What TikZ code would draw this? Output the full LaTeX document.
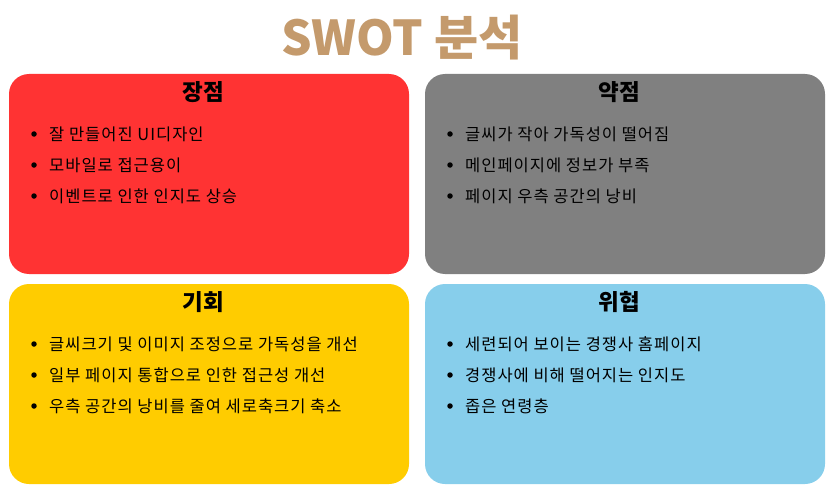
\documentclass[tikz,border=0pt]{standalone}
\usepackage{fontspec}
\setmainfont{Noto Sans CJK KR}
\usepackage{tikz}
\definecolor{swotred}{HTML}{FF3333}
\definecolor{swotgray}{HTML}{808080}
\definecolor{swotyellow}{HTML}{FFCC00}
\definecolor{swotblue}{HTML}{87CEEB}
\definecolor{swottitle}{HTML}{C49A6C}

\begin{document}
\begin{tikzpicture}[x=1pt,y=-1pt,
		head/.style={font=\fontsize{22.5}{26}\selectfont\bfseries, text=black},
		item/.style={anchor=west, inner sep=0pt, font=\fontsize{16.5}{19}\selectfont\addfontfeatures{LetterSpace=6}, text=black},
		dot/.style={circle, fill=black, inner sep=0pt, minimum size=5.5pt}]
			\useasboundingbox (0,0) rectangle (839,495);
			\node[text=swottitle, font=\fontsize{48}{56}\selectfont\bfseries] (title) at (402,38) {SWOT 분석};
			% boxes
			\fill[swotred, rounded corners=20pt] (9,74) rectangle (409,274);
			\fill[swotgray, rounded corners=20pt] (425,74) rectangle (825,274);
			\fill[swotyellow, rounded corners=20pt] (9,284) rectangle (409,484);
			\fill[swotblue, rounded corners=20pt] (425,284) rectangle (825,484);
			% strengths
			\node[head] (S) at (203,92) {장점};
			\node[dot] (s1d) at (34,134) {}; \node[item] (s1) at (49,134) {잘 만들어진 UI디자인};
			\node[dot] (s2d) at (34,165) {}; \node[item] (s2) at (49,165) {모바일로 접근용이};
			\node[dot] (s3d) at (34,196) {}; \node[item] (s3) at (49,196) {이벤트로 인한 인지도 상승};
			% weaknesses
			\node[head] (W) at (619,92) {약점};
			\node[dot] (w1d) at (450,134) {}; \node[item] (w1) at (465,134) {글씨가 작아 가독성이 떨어짐};
			\node[dot] (w2d) at (450,165) {}; \node[item] (w2) at (465,165) {메인페이지에 정보가 부족};
			\node[dot] (w3d) at (450,196) {}; \node[item] (w3) at (465,196) {페이지 우측 공간의 낭비};
			% opportunities
			\node[head] (O) at (203,302) {기회};
			\node[dot] (o1d) at (34,344) {}; \node[item] (o1) at (49,344) {글씨크기 및 이미지 조정으로 가독성을 개선};
			\node[dot] (o2d) at (34,375) {}; \node[item] (o2) at (49,375) {일부 페이지 통합으로 인한 접근성 개선};
			\node[dot] (o3d) at (34,406) {}; \node[item] (o3) at (49,406) {우측 공간의 낭비를 줄여 세로축크기 축소};
			% threats
			\node[head] (T) at (619,302) {위협};
			\node[dot] (t1d) at (450,344) {}; \node[item] (t1) at (465,344) {세련되어 보이는 경쟁사 홈페이지};
			\node[dot] (t2d) at (450,375) {}; \node[item] (t2) at (465,375) {경쟁사에 비해 떨어지는 인지도};
			\node[dot] (t3d) at (450,406) {}; \node[item] (t3) at (465,406) {좁은 연령층};
		\end{tikzpicture}
\end{document}
